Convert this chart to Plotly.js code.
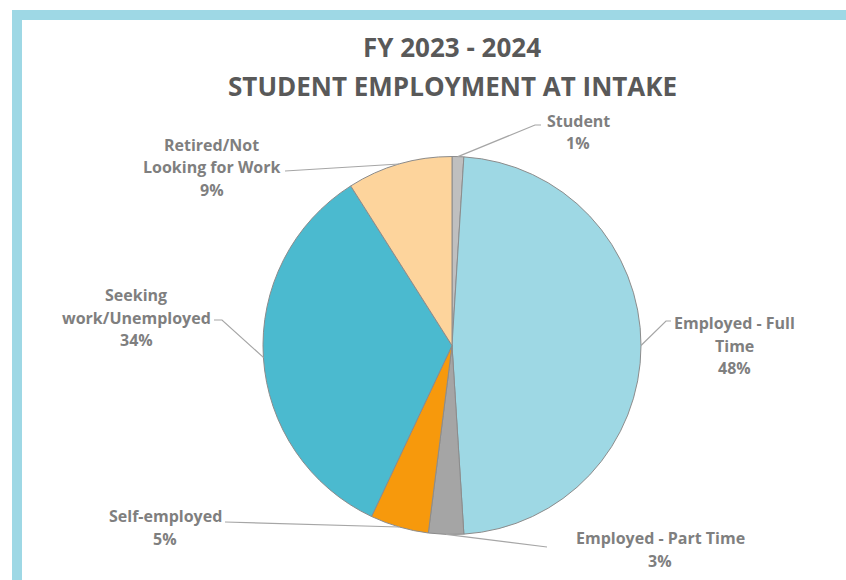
<!DOCTYPE html>
<html>
<head>
<meta charset="utf-8">
<script src="https://cdn.plot.ly/plotly-3.0.1.min.js"></script>
<style>
html,body{margin:0;padding:0;background:#ffffff;}
#chart{width:846px;height:580px;}
</style>
</head>
<body>
<div id="chart"></div>
<script>
// ---- data ----
var categories = ["Student", "Employed - Full Time", "Employed - Part Time", "Self-employed", "Seeking work/Unemployed", "Retired/Not Looking for Work"];
var labelLines = [["Student"], ["Employed - Full", "Time"], ["Employed - Part Time"], ["Self-employed"], ["Seeking", "work/Unemployed"], ["Retired/Not", "Looking for Work"]];
var percentValues = [1, 48, 3, 5, 34, 9];
var sliceColors = ["#BFBFBF", "#9ED8E4", "#A5A5A5", "#F7990C", "#4BBACF", "#FDD49C"];
var titleLine1 = "FY 2023 - 2024";
var titleLine2 = "STUDENT EMPLOYMENT AT INTAKE";

// ---- layout constants (pixels) ----
var W = 846, H = 580;
var CX = 452, CY = 345.5, R = 189;
var labelGap = 22.5;
var labelPos = [
  {x: 578, y: 121, from: [541, 125], kink: [535, 125]},
  {x: 734, y: 323, from: [671, 321], kink: [666, 321]},
  {x: 660, y: 538, from: [547, 547], kink: null},
  {x: 165, y: 516, from: [225, 522], kink: null},
  {x: 136, y: 295, from: [214, 320], kink: [222, 320]},
  {x: 212, y: 145, from: [285, 171], kink: null}
];

function px(x) { return x / W; }
function py(y) { return 1 - y / H; }

var total = percentValues.reduce(function(a, b) { return a + b; }, 0);
var annotations = [];
var shapes = [];
var cum = 0;
var labelColor = "#7F7F7F";
for (var i = 0; i < percentValues.length; i++) {
  var mid = (cum + percentValues[i] / 2) / total * 2 * Math.PI;
  cum += percentValues[i];
  var ex = CX + R * Math.sin(mid);
  var ey = CY - R * Math.cos(mid);
  var lp = labelPos[i];
  var lines = labelLines[i].concat([Math.round(percentValues[i] / total * 100) + "%"]);
  for (var k = 0; k < lines.length; k++) {
    annotations.push({
      xref: "paper", yref: "paper",
      x: px(lp.x), y: py(lp.y + k * labelGap),
      xanchor: "center", yanchor: "middle",
      text: lines[k], showarrow: false,
      font: {family: "Open Sans, sans-serif", size: 16, color: labelColor, weight: "bold"}
    });
  }
  var path = "M " + px(lp.from[0]) + "," + py(lp.from[1]);
  if (lp.kink) path += " L " + px(lp.kink[0]) + "," + py(lp.kink[1]);
  path += " L " + px(ex) + "," + py(ey);
  shapes.push({type: "path", xref: "paper", yref: "paper", path: path,
    line: {color: "#A6A6A6", width: 1.2}});
}

// second title line
annotations.push({
  xref: "paper", yref: "paper", x: px(452), y: py(86),
  xanchor: "center", yanchor: "middle", showarrow: false,
  text: titleLine2,
  font: {family: "Open Sans, sans-serif", size: 26, color: "#595959", weight: "bold"}
});

// light blue frame (top and left edges)
shapes.push({type: "rect", xref: "paper", yref: "paper", x0: px(12), x1: px(846), y0: py(20), y1: py(10),
  line: {width: 0}, fillcolor: "#9ED8E5", layer: "below"});
shapes.push({type: "rect", xref: "paper", yref: "paper", x0: px(12), x1: px(22), y0: py(580), y1: py(10),
  line: {width: 0}, fillcolor: "#9ED8E5", layer: "below"});

var data = [{
  type: "pie",
  labels: categories,
  values: percentValues,
  sort: false,
  direction: "clockwise",
  rotation: 0,
  textinfo: "none",
  hoverinfo: "label+percent",
  marker: {colors: sliceColors, line: {color: "#8C8C8C", width: 1}},
  domain: {x: [px(CX - R), px(CX + R)], y: [py(CY + R), py(CY - R)]},
  showlegend: false
}];

var layout = {
  width: W, height: H,
  margin: {l: 0, r: 0, t: 0, b: 0},
  paper_bgcolor: "#FFFFFF",
  showlegend: false,
  title: {
    text: titleLine1,
    x: px(452), xanchor: "center",
    xref: "paper", yref: "container",
    y: py(48), yanchor: "middle",
    font: {family: "Open Sans, sans-serif", size: 26, color: "#595959", weight: "bold"}
  },
  annotations: annotations,
  shapes: shapes
};

Plotly.newPlot("chart", data, layout, {displayModeBar: false, staticPlot: true});
</script>
</body>
</html>
